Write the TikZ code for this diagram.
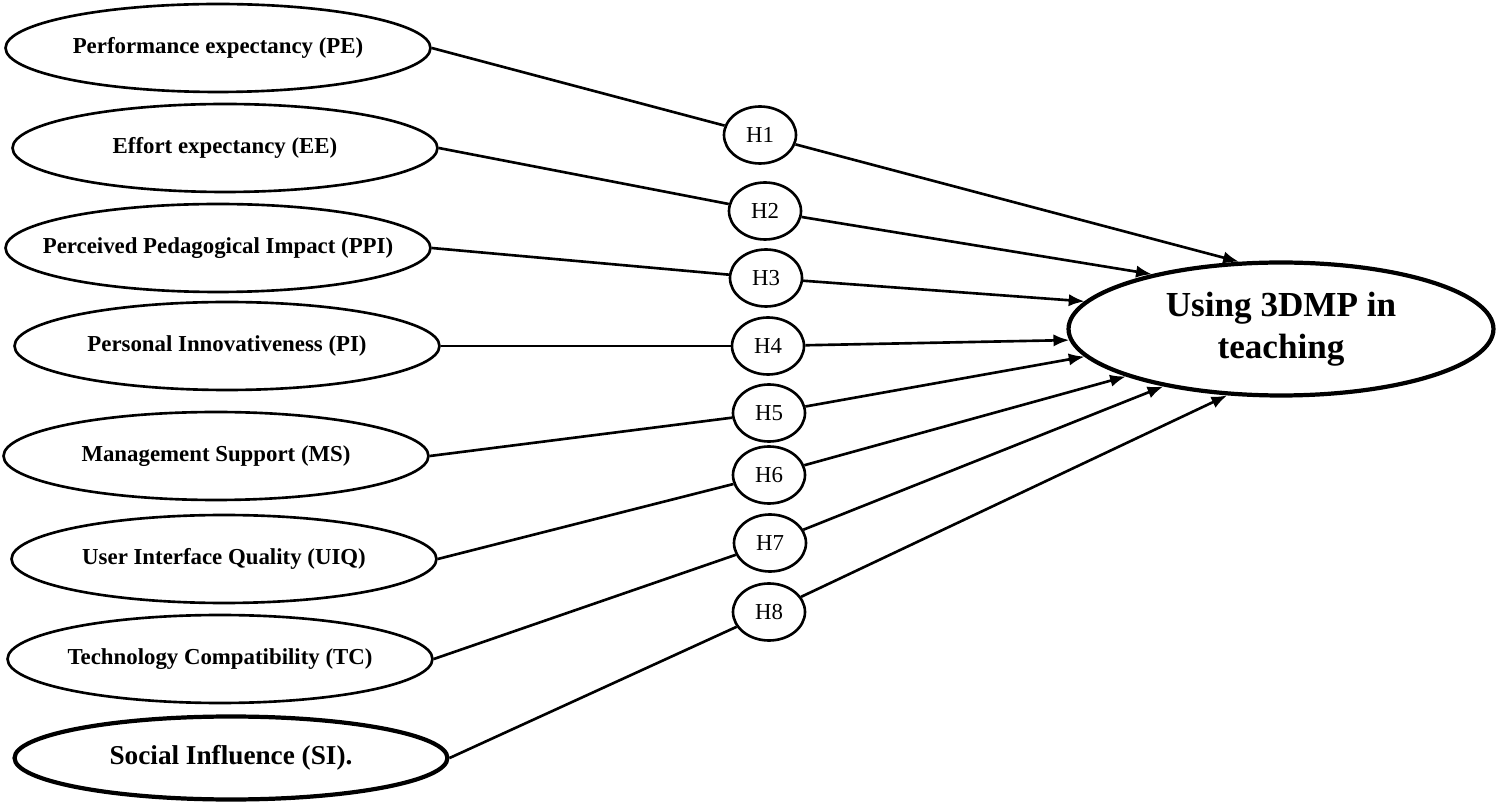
\documentclass[tikz,border=0pt]{standalone}
\usepackage{fontspec}
\setmainfont{Liberation Serif}
\usetikzlibrary{arrows.meta,shapes.geometric}

\begin{document}
\begin{tikzpicture}[x=0.02cm,y=-0.02cm,
    construct/.style={ellipse,draw,line width=1.5pt,inner ysep=0pt,inner xsep=-0.6cm,
        minimum width=8.5cm,minimum height=1.76cm,
        font=\fontsize{13}{15}\selectfont\bfseries},
    hypo/.style={ellipse,draw,line width=1.5pt,inner sep=0pt,
        minimum width=1.44cm,minimum height=1.14cm,
        font=\fontsize{13}{15}\selectfont},
    outcome/.style={ellipse,draw,line width=2.4pt,inner sep=0pt,align=center,
        minimum width=8.5cm,minimum height=2.66cm,
        font=\fontsize{20}{24}\selectfont\bfseries},
    link/.style={line width=1.5pt},
    linkarrow/.style={link,-{Latex[length=9pt,width=7pt]}}]
    \useasboundingbox (0,0) rectangle (1498,810);
    % constructs
    \node[construct] (PE) at (218,48) {Performance expectancy (PE)};
    \node[construct] (EE) at (225,148) {Effort expectancy (EE)};
    \node[construct] (PPI) at (218,248) {Perceived Pedagogical Impact (PPI)};
    \node[construct] (PI) at (227,346) {Personal Innovativeness (PI)};
    \node[construct] (MS) at (216,456) {Management Support (MS)};
    \node[construct] (UIQ) at (224,559) {User Interface Quality (UIQ)};
    \node[construct] (TC) at (220,659) {Technology Compatibility (TC)};
    \node[construct,line width=2.4pt,minimum width=8.66cm,minimum height=1.66cm,
        font=\fontsize{15.5}{18}\selectfont\bfseries] (SI) at (231,758) {Social Influence (SI).};
    % hypotheses
    \node[hypo] (H1) at (760,135) {H1};
    \node[hypo] (H2) at (765,211) {H2};
    \node[hypo] (H3) at (766,278) {H3};
    \node[hypo] (H4) at (768,346) {H4};
    \node[hypo] (H5) at (769,413) {H5};
    \node[hypo] (H6) at (769,475) {H6};
    \node[hypo] (H7) at (770,543) {H7};
    \node[hypo] (H8) at (769,612) {H8};
    % dependent variable
    \node[outcome] (T) at (1281,329) {Using 3DMP in\\teaching};
    % paths
    \draw[link] (PE.east) -- (H1);
    \draw[link] (EE.east) -- (H2);
    \draw[link] (PPI.east) -- (H3);
    \draw[link] (PI.east) -- (H4);
    \draw[link] (MS.east) -- (H5);
    \draw[link] (UIQ.east) -- (H6);
    \draw[link] (TC.east) -- (H7);
    \draw[link] (SI.east) -- (H8);
    \draw[linkarrow] (H1) -- (T.122);
    \draw[linkarrow] (H2) -- (T.157);
    \draw[linkarrow] (H3) -- (T.172);
    \draw[linkarrow] (H4) -- (T.183);
    \draw[linkarrow] (H5) -- (T.188);
    \draw[linkarrow] (H6) -- (T.197);
    \draw[linkarrow] (H7) -- (T.206);
    \draw[linkarrow] (H8) -- (T.231);
\end{tikzpicture}
\end{document}
